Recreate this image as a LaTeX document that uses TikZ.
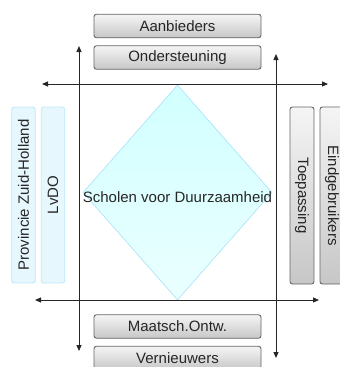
\documentclass[tikz,border=0pt]{standalone}
\usepackage{fontspec}
\setmainfont{Liberation Sans}
\usetikzlibrary{arrows.meta,shapes.geometric}
\begin{document}
\begin{tikzpicture}[x=1pt,y=-1pt,
  lbl/.style={font=\fontsize{15}{18}\selectfont, text=black!85},
  greybox/.style={lbl, draw=black!60, line width=0.9pt, rounded corners=2.5pt,
    top color=black!4, bottom color=black!22, inner sep=0pt},
  hbox/.style={greybox, minimum width=167pt, minimum height=23.5pt},
  vbox/.style={greybox, minimum width=177pt, minimum height=24pt, rotate=-90},
  cyanbox/.style={lbl, draw=cyan!25!white, line width=0.9pt, rounded corners=2.5pt,
    fill=cyan!10!white, inner sep=0pt, minimum width=176pt, minimum height=23.5pt, rotate=90},
  axis/.style={draw=black!85, line width=1pt, {Triangle[length=6pt,width=5pt]}-{Triangle[length=6pt,width=5pt]}},
  dia/.style={diamond, draw=cyan!35!white, line width=0.6pt, top color=cyan!18!white, bottom color=cyan!8!white, inner sep=0pt, minimum width=189pt, minimum height=215pt}
]
\clip (0,0) rectangle (340,367);
\fill[white] (0,0) rectangle (340,367);

\node[dia] (d) at (177.5,192.5) {};
\node[lbl] (dl) at (177.5,197) {Scholen voor Duurzaamheid};

\node[hbox] (aan) at (177.5,26) {Aanbieders};
\node[hbox] (ond) at (177.5,57.5) {Ondersteuning};
\node[hbox] (maa) at (177.5,326.5) {Maatsch.Ontw.};
\node[hbox] (ver) at (177.5,358) {Vernieuwers};

\node[cyanbox] (pzh) at (23.5,195) {Provincie Zuid-Holland};
\node[cyanbox] (lvdo) at (53,195) {LvDO};
\node[vbox] (toe) at (302,195.5) {Toepassing};
\node[vbox] (eind) at (332,195.5) {Eindgebruikers};

\coordinate (lt) at (79,46);
\coordinate (lb) at (79,351);
\coordinate (rt) at (276,54);
\coordinate (rb) at (276,358);
\coordinate (ha) at (42,84);
\coordinate (hb) at (328,84);
\coordinate (hc) at (35,300);
\coordinate (hd) at (319,300);

\draw[axis] (lt) -- (lb);
\draw[axis] (rt) -- (rb);
\draw[axis] (ha) -- (hb);
\draw[axis] (hc) -- (hd);
\end{tikzpicture}
\end{document}
